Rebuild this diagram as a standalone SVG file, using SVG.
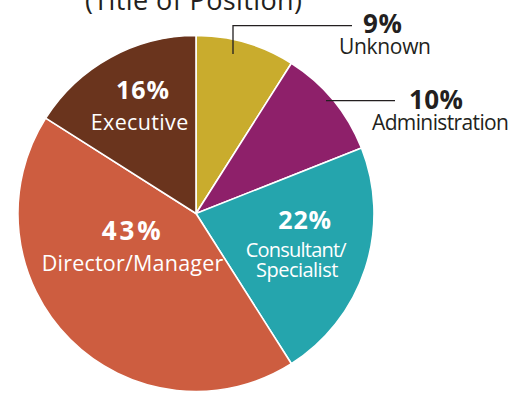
<svg xmlns="http://www.w3.org/2000/svg" width="526" height="394" viewBox="0 0 526 394">
<style>
.slice{stroke:#ffffff;stroke-width:1.6;stroke-linejoin:round}
.t{font-family:"Open Sans","Liberation Sans",sans-serif}
.pct{font-weight:bold}
.w{fill:#ffffff}
.d{fill:#231f20}
.lead{stroke:#231f20;stroke-width:1.3;fill:none}
</style>
<rect width="526" height="394" fill="#ffffff"/>
<text class="t d" x="85" y="9.5" font-size="27" textLength="217">(Title of Position)</text>
<g id="unknown">
<path class="slice" fill="#C9AC2D" d="M196,213.5 L196,35.5 A178,178 0 0 1 291.4,63.2 Z"/>
<text class="t d pct" x="363" y="33" font-size="26" textLength="39">9%</text>
<text class="t d" x="339" y="54" font-size="21" textLength="92">Unknown</text>
</g>
<g id="administration">
<path class="slice" fill="#8E206A" d="M196,213.5 L291.4,63.2 A178,178 0 0 1 361.5,148 Z"/>
<text class="t d pct" x="409" y="109" font-size="26" textLength="54">10%</text>
<text class="t d" x="372" y="130" font-size="21" textLength="137">Administration</text>
</g>
<g id="consultant">
<path class="slice" fill="#25A5AD" d="M196,213.5 L361.5,148 A178,178 0 0 1 291.4,363.8 Z"/>
<text class="t w pct" x="278.3" y="229.3" font-size="25" textLength="52.7">22%</text>
<text class="t w" x="245.7" y="256.7" font-size="20" textLength="101">Consultant/</text>
<text class="t w" x="256" y="276.7" font-size="20" textLength="82.3">Specialist</text>
</g>
<g id="director">
<path class="slice" fill="#CD5D40" d="M196,213.5 L291.4,363.8 A178,178 0 0 1 45.7,118.1 Z"/>
<text class="t w pct" x="101.7" y="240" font-size="26" textLength="59">43%</text>
<text class="t w" x="41.7" y="270.7" font-size="21.5" textLength="181.6">Director/Manager</text>
</g>
<g id="executive">
<path class="slice" fill="#6A341D" d="M196,213.5 L45.7,118.1 A178,178 0 0 1 196,35.5 Z"/>
<text class="t w pct" x="116" y="99.3" font-size="25" textLength="53">16%</text>
<text class="t w" x="90.7" y="130" font-size="21.5" textLength="97.6">Executive</text>
</g>
<g id="connectors">
<polyline class="lead" points="233,54 233,25.7 352,25.7"/>
<line class="lead" x1="326" y1="100.7" x2="395" y2="100.7"/>
</g>
</svg>
